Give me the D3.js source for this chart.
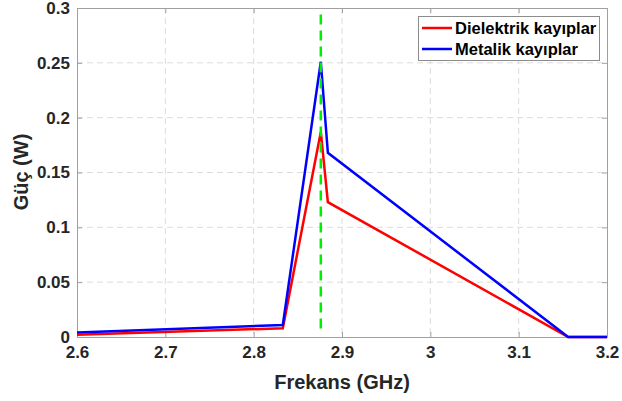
<!DOCTYPE html>
<html><head><meta charset="utf-8">
<script src="https://cdn.jsdelivr.net/npm/d3@7"></script>
<style>body{margin:0;background:#fff}</style>
</head><body>
<svg id="c" width="622" height="401"></svg>
<script>
const freq = [2.6, 2.833, 2.876, 2.884, 3.156, 3.2];
const dielektrik = [0.002, 0.008, 0.187, 0.123, 0, 0];
const metalik = [0.004, 0.011, 0.251, 0.168, 0, 0];
const resonance = 2.876;
const xTicks = [2.6, 2.7, 2.8, 2.9, 3.0, 3.1, 3.2];
const yTicks = [0, 0.05, 0.1, 0.15, 0.2, 0.25, 0.3];
const seriesNames = ["Dielektrik kayıplar", "Metalik kayıplar"];
const colors = ["#ff0000", "#0000ff"];

const svg = d3.select("#c");
const L = 77, R = 607, T = 8, B = 337;
const x = d3.scaleLinear().domain([2.6, 3.2]).range([L, R]);
const y = d3.scaleLinear().domain([0, 0.3]).range([B, T]);
const font = "'Liberation Sans', Arial, sans-serif";

// grid
svg.append("g").selectAll("line").data(xTicks.slice(1, -1)).join("line")
  .attr("x1", d => x(d)).attr("x2", d => x(d)).attr("y1", T).attr("y2", B)
  .attr("stroke", "#dcdcdc").attr("stroke-dasharray", "6,4").attr("stroke-width", 1);
svg.append("g").selectAll("line").data(yTicks.slice(1, -1)).join("line")
  .attr("y1", d => y(d)).attr("y2", d => y(d)).attr("x1", L).attr("x2", R)
  .attr("stroke", "#dcdcdc").attr("stroke-dasharray", "6,4").attr("stroke-width", 1);

// axes
const fmtX = d => String(+d.toFixed(1));
const fmtY = d => String(+d.toFixed(2));
const gx = svg.append("g").attr("transform", `translate(0,${B})`)
  .call(d3.axisBottom(x).tickValues(xTicks).tickSizeInner(-5).tickSizeOuter(0).tickPadding(9).tickFormat(fmtX));
const gxt = svg.append("g").attr("transform", `translate(0,${T})`)
  .call(d3.axisTop(x).tickValues(xTicks).tickSizeInner(-5).tickSizeOuter(0).tickFormat(""));
const gy = svg.append("g").attr("transform", `translate(${L},0)`)
  .call(d3.axisLeft(y).tickValues(yTicks).tickSizeInner(-5).tickSizeOuter(0).tickPadding(7).tickFormat(fmtY));
const gyr = svg.append("g").attr("transform", `translate(${R},0)`)
  .call(d3.axisRight(y).tickValues(yTicks).tickSizeInner(-5).tickSizeOuter(0).tickFormat(""));
[gx, gxt, gy, gyr].forEach(g => {
  g.select(".domain").attr("stroke", "#a0a0a0");
  g.selectAll(".tick line").attr("stroke", "#a0a0a0");
  g.selectAll("text").attr("font-family", font).attr("font-size", 17).attr("font-weight", "bold").attr("fill", "#262626");
});

// lines
const line = d3.line().x((d, i) => x(freq[i])).y(d => y(d));
[dielektrik, metalik].forEach((s, k) => {
  svg.append("path").datum(s).attr("d", line).attr("fill", "none")
    .attr("stroke", colors[k]).attr("stroke-width", 2.5).attr("stroke-linejoin", "miter");
});

// resonance
svg.append("line").attr("x1", x(resonance)).attr("x2", x(resonance))
  .attr("y1", y(0.294)).attr("y2", y(0.003))
  .attr("stroke", "#00ee00").attr("stroke-width", 2.5).attr("stroke-dasharray", "10,6");

// labels
svg.append("text").attr("x", (L + R) / 2).attr("y", 389).attr("text-anchor", "middle")
  .attr("font-family", font).attr("font-size", 20).attr("font-weight", "bold").attr("fill", "#262626")
  .text("Frekans (GHz)");
svg.append("text").attr("transform", `translate(28,172) rotate(-90)`).attr("text-anchor", "middle")
  .attr("font-family", font).attr("font-size", 20).attr("font-weight", "bold").attr("fill", "#262626")
  .text("Güç (W)");

// legend
const lg = svg.append("g");
lg.append("rect").attr("x", 418.5).attr("y", 16.5).attr("width", 181).attr("height", 44)
  .attr("fill", "#fff").attr("stroke", "#8c8c8c").attr("stroke-width", 1);
seriesNames.forEach((n, k) => {
  const yy = 28 + k * 21;
  lg.append("line").attr("x1", 422).attr("x2", 452).attr("y1", yy).attr("y2", yy)
    .attr("stroke", colors[k]).attr("stroke-width", 2.5);
  lg.append("text").attr("x", 455).attr("y", yy + 6).attr("font-family", font)
    .attr("font-size", 16.5).attr("font-weight", "bold").attr("fill", "#000").text(n);
});
</script>
</body></html>
